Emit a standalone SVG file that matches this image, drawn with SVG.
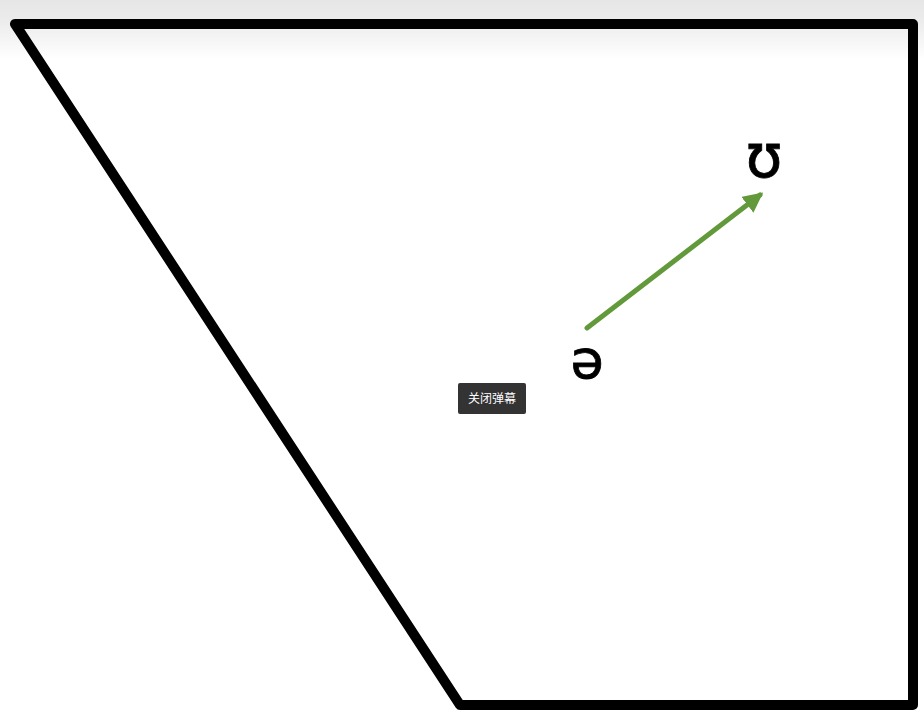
<svg xmlns="http://www.w3.org/2000/svg" width="924" height="721" viewBox="0 0 924 721">
<defs>
<linearGradient id="bg" x1="0" y1="0" x2="0" y2="60" gradientUnits="userSpaceOnUse">
<stop offset="0" stop-color="#e6e6e6"/>
<stop offset="0.35" stop-color="#ececec"/>
<stop offset="1" stop-color="#ffffff"/>
</linearGradient>
<marker id="ah" viewBox="0 0 10 10" refX="8" refY="5" markerWidth="4" markerHeight="4" orient="auto" markerUnits="strokeWidth">
<path d="M0,0 L10,5 L0,10 z" fill="#629a3b"/>
</marker>
<style>
.ipa{font-family:"DejaVu Sans","Liberation Sans",sans-serif;font-size:54px;fill:#000;stroke:#000;stroke-width:0.8;text-anchor:middle}
.big{font-size:60px}
.btn{font-family:"Liberation Sans","Noto Sans CJK SC",sans-serif;font-size:12px;fill:#fff;text-anchor:middle}
</style>
</defs>
<rect x="0" y="0" width="924" height="721" fill="url(#bg)"/>
<g id="frame">
<polygon points="15,24 913,24 913,705 460,705" fill="none" stroke="#000" stroke-width="10" stroke-linejoin="round"/>
</g>
<g id="connectors">
<line x1="587" y1="328" x2="760" y2="195" stroke="#629a3b" stroke-width="5" stroke-linecap="round" marker-end="url(#ah)"/>
</g>
<g id="node-schwa">
<text class="ipa" x="587" y="378">ə</text>
</g>
<g id="node-upsilon">
<text class="ipa big" x="764" y="177">ʊ</text>
</g>
<g id="button">
<rect x="458" y="383" width="68" height="31" rx="2" fill="#333"/>
<text class="btn" x="492" y="403">关闭弹幕</text>
</g>
</svg>
